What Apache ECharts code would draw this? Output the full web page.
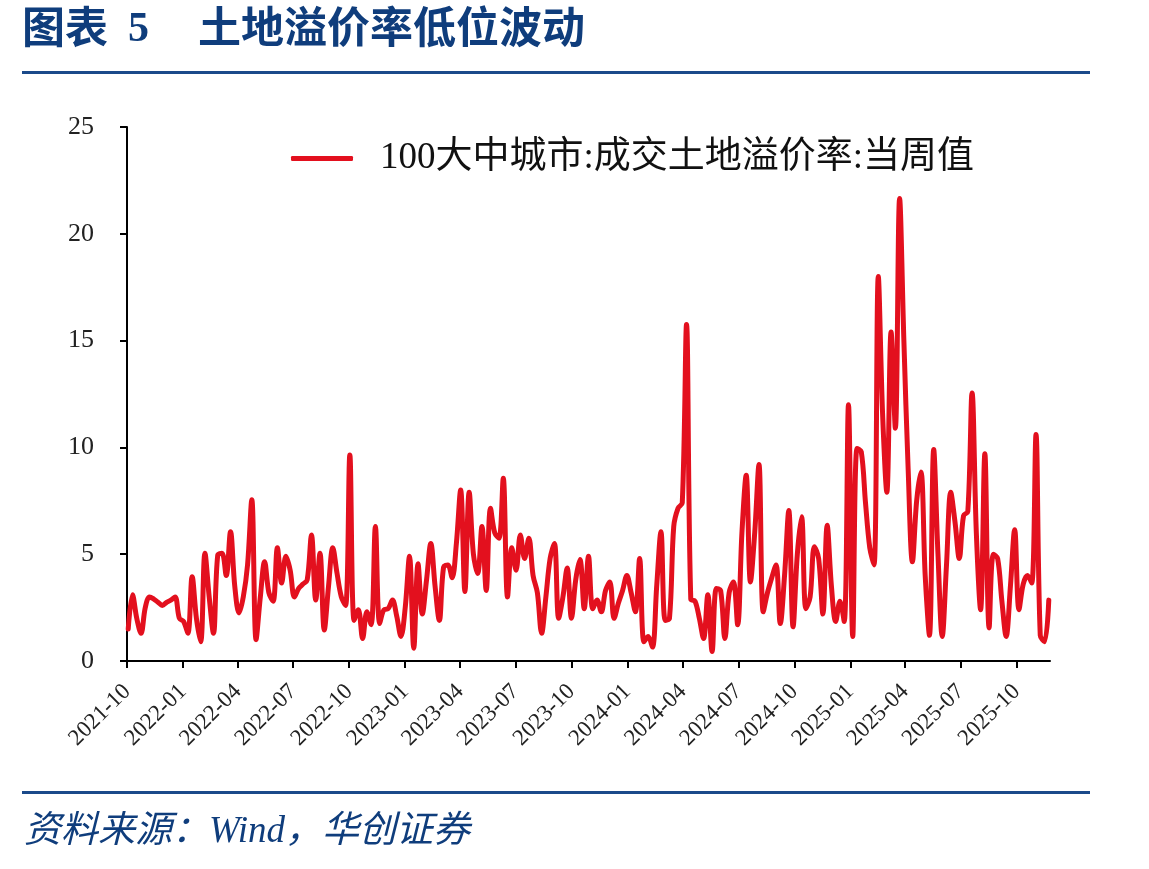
<!DOCTYPE html>
<html><head><meta charset="utf-8">
<script src="https://cdn.jsdelivr.net/npm/echarts@6/dist/echarts.min.js"></script>
<style>html,body{margin:0;padding:0;background:#fff}#c{width:1149px;height:869px}</style>
</head><body><div id="c"></div>
<script>
// ---- data ----
const seriesName = '100大中城市:成交土地溢价率:当周值';
const startDate = [2021, 10, 3];      // first weekly observation (y, m, d)
const weekStepDays = 7;
const values = [
  1.5, 3.1, 2.0, 1.3, 2.5, 3.0, 2.9, 2.75, 2.6, 2.75,
  2.85, 3.0, 2.0, 1.85, 1.3, 3.95, 2.0, 0.9, 5.05, 3.0,
  1.3, 4.95, 5.05, 4.0, 6.05, 3.5, 2.25, 3.0, 4.5, 7.55,
  1.0, 3.0, 4.65, 3.2, 2.8, 5.3, 3.65, 4.9, 4.25, 3.0,
  3.4, 3.6, 3.8, 5.9, 2.85, 5.05, 1.45, 3.5, 5.3, 4.1,
  3.0, 2.6, 9.65, 1.9, 2.4, 1.05, 2.3, 1.7, 6.3, 1.75,
  2.4, 2.45, 2.85, 2.1, 1.15, 2.5, 4.9, 0.6, 4.55, 2.2,
  3.8, 5.5, 3.5, 1.9, 4.4, 4.5, 3.9, 5.5, 8.0, 3.25,
  7.9, 5.0, 4.1, 6.3, 3.3, 7.15, 6.0, 5.75, 8.55, 3.0,
  5.3, 4.25, 5.9, 4.8, 5.75, 4.0, 3.2, 1.3, 3.0, 4.8,
  5.5, 2.0, 3.0, 4.35, 2.0, 3.8, 4.75, 2.45, 4.9, 2.45,
  2.85, 2.3, 3.3, 3.7, 2.0, 2.7, 3.3, 4.0, 3.2, 2.3,
  4.8, 0.9, 1.15, 0.65, 3.5, 6.05, 1.9, 2.0, 6.3, 7.15,
  7.4, 15.75, 2.9, 2.8, 2.0, 1.05, 3.1, 0.45, 3.4, 3.3,
  1.05, 3.2, 3.7, 1.7, 6.0, 8.7, 3.7, 6.0, 9.2, 2.3,
  3.2, 3.9, 4.5, 1.75, 4.0, 7.05, 1.6, 5.0, 6.75, 2.45,
  3.0, 5.35, 4.8, 2.2, 6.35, 3.5, 1.85, 2.8, 1.85, 12.0,
  1.15, 9.95, 9.8, 7.4, 5.3, 4.5, 18.0, 11.6, 7.9, 15.4,
  10.9, 21.65, 15.0, 9.0, 4.65, 7.5, 8.85, 4.0, 1.2, 9.9,
  5.0, 1.15, 4.5, 7.9, 6.5, 4.8, 6.8, 7.0, 12.55, 6.0,
  2.4, 9.7, 1.55, 5.0, 4.8, 2.8, 1.15, 3.5, 6.15, 2.4,
  3.6, 4.0, 3.65, 10.6, 1.2, 0.9, 2.85
];
const xTickLabels = ['2021-10','2022-01','2022-04','2022-07','2022-10','2023-01','2023-04','2023-07','2023-10','2024-01','2024-04','2024-07','2024-10','2025-01','2025-04','2025-07','2025-10'];
const xAxisEnd = '2025-11-25';
const yTicks = [0, 5, 10, 15, 20, 25];
const titleNoWord = '图表';
const titleNoDigit = '5';
const titleText = '土地溢价率低位波动';
const sourceText = '资料来源：Wind，华创证券';

// ---- build: x position = days since first tick label ----
const DAY = 86400000;
function ymd(y, m, d) { return Date.UTC(y, m - 1, d); }
function parseLabel(s) { const p = s.split('-').map(Number); return ymd(p[0], p[1], p[2] || 1); }
const origin = parseLabel(xTickLabels[0]);
const toDays = ts => Math.round((ts - origin) / DAY);
const points = values.map((v, i) => [toDays(ymd(startDate[0], startDate[1], startDate[2] + i * weekStepDays)), v]);
const tickDays = xTickLabels.map(s => toDays(parseLabel(s)));
const blue = '#0F3D7C';
const serif = '"Liberation Serif", "Noto Sans CJK SC", serif';

const chart = echarts.init(document.getElementById('c'), null, {renderer: 'canvas'});
chart.setOption({
  backgroundColor: '#fff',
  animation: false,
  grid: {left: 127, top: 127, right: 99, bottom: 208, containLabel: false},
  legend: {
    show: true, left: 286, top: 135, icon: 'roundRect', itemWidth: 62, itemHeight: 5, itemGap: 10,
    textStyle: {fontFamily: serif, fontSize: 37, color: '#111', padding: [0, 0, 0, 22]},
    data: [seriesName]
  },
  xAxis: {
    type: 'value',
    min: 0, max: toDays(parseLabel(xAxisEnd)),
    axisLine: {show: true, onZero: false, lineStyle: {color: '#000', width: 2}},
    axisTick: {show: true, length: 7, lineStyle: {color: '#000', width: 2}, customValues: tickDays},
    axisLabel: {
      customValues: tickDays, rotate: 45, margin: 27, fontFamily: serif, fontSize: 23, color: '#222',
      formatter: function (v) { const i = tickDays.indexOf(Math.round(v)); return i >= 0 ? xTickLabels[i] : ''; }
    },
    splitLine: {show: false}
  },
  yAxis: {
    type: 'value', min: yTicks[0], max: yTicks[yTicks.length - 1], interval: yTicks[1] - yTicks[0],
    axisLine: {show: true, lineStyle: {color: '#000', width: 2}},
    axisTick: {show: true, length: 7, lineStyle: {color: '#000', width: 2}},
    axisLabel: {margin: 33, fontFamily: serif, fontSize: 26, color: '#222'},
    splitLine: {show: false}
  },
  series: [{
    name: seriesName, type: 'line', data: points, showSymbol: false, symbol: 'none',
    smooth: 0.35, lineStyle: {color: '#E3101E', width: 5, cap: 'round', join: 'round'},
    itemStyle: {color: '#E3101E'}
  }],
  graphic: [
    {type: 'text', left: 22, top: 5, style: {text: titleNoWord, font: 'bold 43px "Noto Sans CJK SC", serif', fill: blue}},
    {type: 'text', left: 128, top: 9, style: {text: titleNoDigit, font: 'bold 42px "Liberation Serif", serif', fill: blue}},
    {type: 'text', left: 198, top: 5, style: {text: titleText, font: 'bold 43px "Noto Sans CJK SC", serif', fill: blue}},
    {type: 'rect', shape: {x: 22, y: 71, width: 1068, height: 3}, style: {fill: '#1B4A8A'}},
    {type: 'rect', shape: {x: 22, y: 791, width: 1068, height: 3}, style: {fill: '#1B4A8A'}},
    {type: 'text', left: 24, top: 814, style: {text: sourceText, font: 'italic 37px "Liberation Serif", "Noto Sans CJK SC", serif', fill: blue}}
  ]
});
</script>
</body></html>
